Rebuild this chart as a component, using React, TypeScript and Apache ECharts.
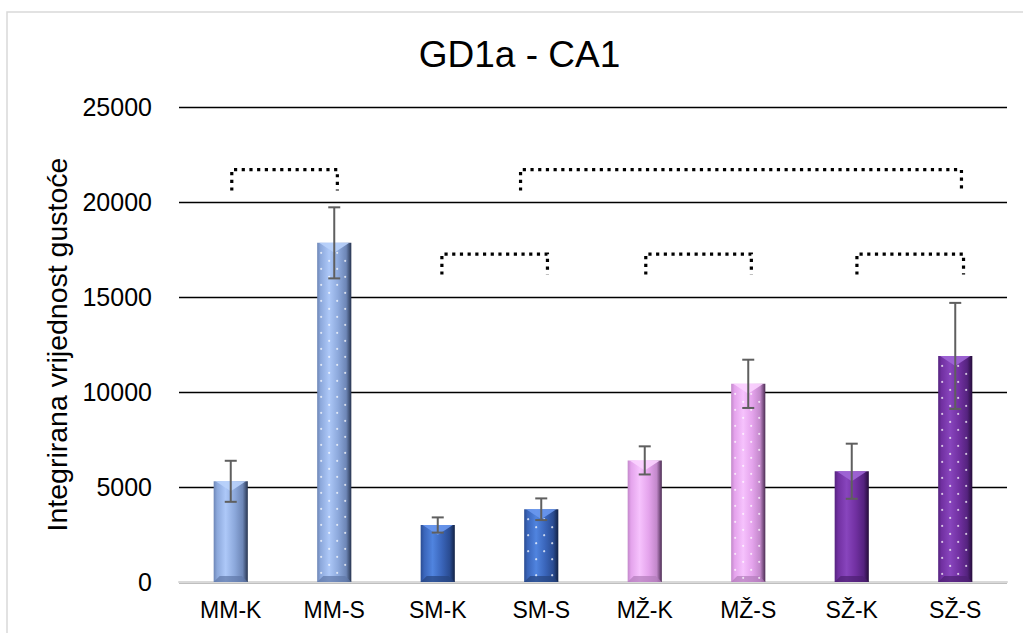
import React, { useEffect, useRef } from 'react';
import * as echarts from 'echarts';

// ---- data ----
const categories = ['MM-K', 'MM-S', 'SM-K', 'SM-S', 'MŽ-K', 'MŽ-S', 'SŽ-K', 'SŽ-S'];
const means = [5300, 17850, 3000, 3830, 6400, 10430, 5830, 11900];
const errors = [1080, 1870, 400, 570, 740, 1270, 1450, 2790];
const colorGroup = [0, 0, 1, 1, 2, 2, 3, 3];
const dottedBar = [0, 1, 0, 1, 0, 1, 0, 1];
const yMin = 0;
const yMax = 25000;
const yInterval = 5000;
const chartTitle = 'GD1a - CA1';
const yAxisName = 'Integrirana vrijednost gustoće';

// brackets: [leftPos, rightPos, topValue, legBottomValue] (positions in category units)
const bracketLeft = [0.01, 2.8, 2.04, 4.01, 6.05];
const bracketRight = [1.03, 7.06, 3.06, 5.03, 7.08];
const bracketTop = [21700, 21700, 17260, 17260, 17260];
const bracketBottom = [20600, 20600, 16180, 16180, 16180];

// ---- styles ----
const palettes = [
  { left: '#6d86b6', base: '#8ca8db', hi: '#adc8f8', dark: '#27344f', top: '#b9d2fb', bottom: '#5f78a8' },
  { left: '#2a4c92', base: '#3a65ba', hi: '#5084df', dark: '#122245', top: '#6a98ee', bottom: '#26457f' },
  { left: '#c288ca', base: '#e4a3ec', hi: '#f6c2fd', dark: '#4b2c52', top: '#fbd3ff', bottom: '#b27cba' },
  { left: '#55237f', base: '#7130a1', hi: '#8845bd', dark: '#250d3a', top: '#a066d6', bottom: '#4d1f72' },
];

const FONT = 'Liberation Sans, Arial, sans-serif';

export default function App() {
  const ref = useRef<HTMLDivElement>(null);

  useEffect(() => {
    if (!ref.current) return;
    const chart = echarts.init(ref.current, undefined, { renderer: 'svg' });

    const barData = categories.map((c, i) => [i, means[i], colorGroup[i], dottedBar[i]]);
    const errData = categories.map((c, i) => [i, means[i] - errors[i], means[i] + errors[i]]);

    const bracketSeries = bracketLeft.map((l, k) => ({
      type: 'line',
      xAxisIndex: 1,
      yAxisIndex: 0,
      symbol: 'none',
      silent: true,
      z: 5,
      lineStyle: { color: '#000', width: 3.2, type: [3.2, 4.5], cap: 'butt', join: 'miter' },
      data: [
        [l, bracketBottom[k]],
        [l, bracketTop[k]],
        [bracketRight[k], bracketTop[k]],
        [bracketRight[k], bracketBottom[k]],
      ],
    }));

    const option: any = {
      animation: false,
      backgroundColor: '#fff',
      graphic: [
        {
          type: 'rect',
          silent: true,
          z: -10,
          shape: { x: 7, y: 12, width: 1040, height: 640 },
          style: { fill: 'none', stroke: '#d9d9d9', lineWidth: 1.5 },
        },
        {
          type: 'text',
          x: 519.5,
          y: 54,
          style: {
            text: chartTitle,
            fontSize: 37,
            fontFamily: FONT,
            fill: '#000',
            align: 'center',
            verticalAlign: 'middle',
          },
        },
      ],
      grid: { left: 179, right: 16, top: 107, bottom: 51, containLabel: false },
      xAxis: [
        {
          type: 'category',
          data: categories,
          axisLine: { show: true, lineStyle: { color: '#d9d9d9', width: 2 } },
          axisTick: { show: false },
          axisLabel: { color: '#000', fontSize: 23, fontFamily: FONT, margin: 16, interval: 0 },
          splitLine: { show: false },
        },
        {
          type: 'value',
          min: -0.5,
          max: 7.5,
          show: false,
          splitLine: { show: false },
        },
      ],
      yAxis: {
        type: 'value',
        min: yMin,
        max: yMax,
        interval: yInterval,
        name: yAxisName,
        nameLocation: 'middle',
        nameGap: 89,
        nameTextStyle: { color: '#000', fontSize: 28.5, fontFamily: FONT },
        axisLine: { show: false },
        axisTick: { show: false },
        axisLabel: {
          color: '#000',
          fontSize: 25,
          fontFamily: FONT,
          margin: 27,
          formatter: (v: number) => String(v),
        },
        splitLine: { show: true, lineStyle: { color: '#000', width: 1.3 } },
      },
      series: [
        {
          type: 'custom',
          name: 'bars',
          xAxisIndex: 0,
          yAxisIndex: 0,
          z: 3,
          encode: { x: 0, y: 1 },
          data: barData,
          renderItem: (params: any, api: any) => {
            const i = api.value(0);
            const v = api.value(1);
            const p = palettes[api.value(2)];
            const dotted = api.value(3) === 1;
            const top = api.coord([i, v]);
            const base = api.coord([i, 0]);
            const bw = api.size([1, 0])[0] * 0.33;
            const cx = top[0];
            const l = cx - bw / 2;
            const r = cx + bw / 2;
            const yT = top[1];
            const yB = base[1];
            const h = yB - yT;
            const bev = Math.min(10, h / 3);
            const children: any[] = [
              {
                type: 'rect',
                shape: { x: l, y: yT, width: bw, height: h },
                style: {
                  fill: new echarts.graphic.LinearGradient(0, 0, 1, 0, [
                    { offset: 0, color: p.left },
                    { offset: 0.1, color: p.base },
                    { offset: 0.35, color: p.hi },
                    { offset: 0.62, color: p.base },
                    { offset: 0.85, color: p.left },
                    { offset: 1, color: p.dark },
                  ]),
                },
              },
              {
                type: 'polygon',
                shape: { points: [[l + 2, yT], [r - 2, yT], [cx, yT + bev]] },
                style: { fill: p.top, opacity: 0.9 },
              },
              {
                type: 'polygon',
                shape: { points: [[l, yB], [r, yB], [r - 6, yB - 6], [l + 6, yB - 6]] },
                style: { fill: p.bottom, opacity: 0.7 },
              },
            ];
            if (dotted) {
              const step = 8;
              let row = 0;
              for (let y = yT + 10; y < yB - 4; y += step, row++) {
                const off = row % 2 === 0 ? 4 : 12;
                for (let x = l + off; x < r - 2; x += 16) {
                  children.push({
                    type: 'circle',
                    shape: { cx: x, cy: y, r: 1.1 },
                    style: { fill: 'rgba(255,255,255,0.75)' },
                  });
                }
              }
            }
            return { type: 'group', children };
          },
        },
        {
          type: 'custom',
          name: 'error',
          xAxisIndex: 0,
          yAxisIndex: 0,
          z: 4,
          encode: { x: 0, y: [1, 2] },
          data: errData,
          renderItem: (params: any, api: any) => {
            const i = api.value(0);
            const lo = api.coord([i, api.value(1)]);
            const hi = api.coord([i, api.value(2)]);
            const cap = 6;
            const st = { stroke: '#5f5f5f', lineWidth: 2 };
            return {
              type: 'group',
              children: [
                { type: 'line', shape: { x1: lo[0], y1: lo[1], x2: hi[0], y2: hi[1] }, style: st },
                { type: 'line', shape: { x1: hi[0] - cap, y1: hi[1], x2: hi[0] + cap, y2: hi[1] }, style: st },
                { type: 'line', shape: { x1: lo[0] - cap, y1: lo[1], x2: lo[0] + cap, y2: lo[1] }, style: st },
              ],
            };
          },
        },
        ...bracketSeries,
      ],
    };

    chart.setOption(option);
    return () => chart.dispose();
  }, []);

  return (
    <div
      ref={ref}
      style={{ position: 'absolute', left: 0, top: 0, width: 1023, height: 633, background: '#fff' }}
    />
  );
}
